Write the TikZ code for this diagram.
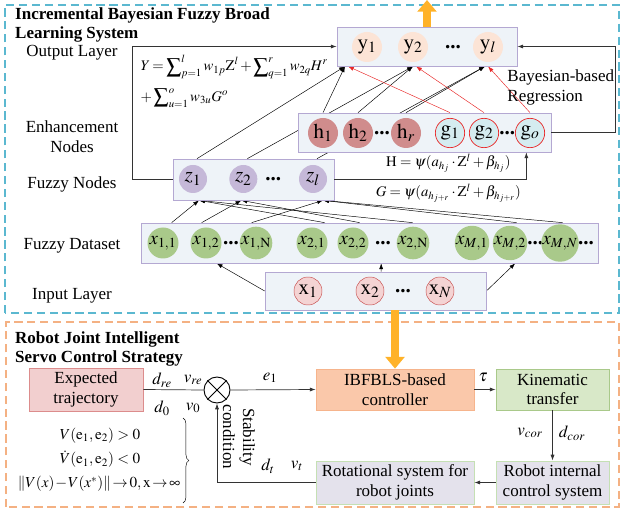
\documentclass[tikz,border=0pt]{standalone}
\usepackage{mathptmx}
\usepackage{fontspec}
\setmainfont{Liberation Serif}
\usepackage{tikz}
\usetikzlibrary{positioning, arrows.meta, calc, fit, backgrounds, decorations.pathreplacing}
\definecolor{layer_fill}{RGB}{238,243,248}
\definecolor{layer_line}{RGB}{180,168,210}
\definecolor{y_fill}{RGB}{252,228,214}
\definecolor{h_fill}{RGB}{208,140,140}
\definecolor{g_fill}{RGB}{213,236,240}
\definecolor{z_fill}{RGB}{197,184,216}
\definecolor{x_fill}{RGB}{169,201,138}
\definecolor{in_fill}{RGB}{244,211,211}
\definecolor{in_line}{RGB}{200,80,80}
\definecolor{ring_red}{RGB}{232,40,40}
\definecolor{frame_blue}{RGB}{91,184,208}
\definecolor{frame_orange}{RGB}{244,177,131}
\definecolor{big_orange}{RGB}{255,178,40}
\definecolor{traj_fill}{RGB}{242,207,207}
\definecolor{traj_line}{RGB}{220,140,140}
\definecolor{ctrl_fill}{RGB}{250,200,170}
\definecolor{ctrl_line}{RGB}{246,180,140}
\definecolor{kin_fill}{RGB}{216,232,200}
\definecolor{kin_line}{RGB}{169,201,138}
\definecolor{sys_fill}{RGB}{228,226,236}
\definecolor{sys_line}{RGB}{197,224,180}

\begin{document}
\begin{tikzpicture}[>={Latex[length=5pt,width=3.5pt]}, font=\fontsize{14.5}{17}\selectfont,
      layer/.style ={draw=layer_line, fill=layer_fill, semithick},
      unit/.style  ={circle, inner sep=0pt, font=\fontsize{18}{20}\selectfont},
      yunit/.style ={unit, fill=y_fill, minimum size=0.9cm},
      hunit/.style ={unit, fill=h_fill, minimum size=0.9cm},
      gunit/.style ={unit, fill=g_fill, draw=ring_red, semithick, minimum size=0.88cm},
      zunit/.style ={unit, fill=z_fill, minimum size=0.84cm},
      xunit/.style ={unit, fill=x_fill, minimum size=0.93cm, font=\fontsize{16}{18}\selectfont},
      inunit/.style={unit, fill=in_fill, draw=in_line, minimum size=0.84cm},
      rowdots/.style={inner sep=0pt, font=\fontsize{18}{18}\selectfont\bfseries},
      lbl/.style   ={align=center},
      eqn/.style   ={inner sep=1pt, font=\fontsize{13}{15}\selectfont},
      smalleqn/.style={inner sep=1pt, font=\fontsize{12.5}{14}\selectfont},
      frame/.style ={dashed, dash pattern=on 7pt off 4pt, line width=1.1pt},
      blk/.style   ={align=center, minimum height=1.23cm, semithick},
      conn/.style  ={->, thin},
      redconn/.style={->, thin, ring_red},
      flow/.style  ={->, semithick, black!80},
      bigarrow/.style={-{Triangle[width=16pt,length=10pt]}, line width=6pt, big_orange}]
    \useasboundingbox (0,0) rectangle (18.66,15.3);
    % --- the two dashed frames ---
    \draw[frame, frame_blue]   (0.15,5.91) rectangle (18.57,15.15);
    \draw[frame, frame_orange] (0.18,0.09) rectangle (18.57,5.64);
    \node[anchor=north west, inner sep=0pt, align=left, font=\fontsize{14.5}{17}\selectfont\bfseries] (ttl1) at (0.45,15.09)
      {Incremental Bayesian Fuzzy Broad\\Learning System};
    \node[anchor=north west, inner sep=0pt, align=left, font=\fontsize{14.5}{17}\selectfont\bfseries] (ttl2) at (0.45,5.37)
      {Robot Joint Intelligent\\Servo Control Strategy};
    % --- TOP: layer names on the left ---
    \node[lbl] (l_out) at (2.16,13.71) {Output Layer};
    \node[lbl] (l_enh) at (2.16,11.19) {Enhancement\\Nodes};
    \node[lbl] (l_fz)  at (2.16,9.78)  {Fuzzy Nodes};
    \node[lbl] (l_ds)  at (2.16,7.92)  {Fuzzy Dataset};
    \node[lbl] (l_in)  at (2.16,6.42)  {Input Layer};
    % --- TOP: output layer ---
    \node[layer, minimum width=5.4cm, minimum height=1.17cm] (out) at (12.81,13.905) {};
    \node[yunit] (y1) at (11.01,13.89) {$\mathrm{y}_1$};
    \node[yunit] (y2) at (12.39,13.89) {$\mathrm{y}_2$};
    \node[rowdots] (ydots) at (13.59,13.89) {...};
    \node[yunit] (yl) at (14.64,13.89) {$\mathrm{y}_l$};
    \node[eqn, anchor=west, font=\fontsize{12.5}{15}\selectfont] (fY1) at (4.18,13.29)
      {$\medmuskip=2mu\thickmuskip=3mu Y=\displaystyle\sum\nolimits_{p=1}^{l} w_{1p}\mathrm{Z}^{l}+\sum\nolimits_{q=1}^{r} w_{2q}H^{r}$};
    \node[eqn, anchor=west, font=\fontsize{12.5}{15}\selectfont] (fY2) at (4.18,12.36)
      {$\medmuskip=2mu +\displaystyle\sum\nolimits_{u=1}^{o} w_{3u}G^{o}$};
    \node[anchor=west, align=left] (bayes) at (15.1,12.69) {Bayesian-based\\Regression};
    % --- TOP: enhancement nodes ---
    \node[layer, minimum width=7.59cm, minimum height=1.17cm] (enh) at (12.735,11.325) {};
    \node[hunit] (h1) at (9.69,11.31)  {$\mathrm{h}_1$};
    \node[hunit] (h2) at (10.74,11.31) {$\mathrm{h}_2$};
    \node[rowdots] (hdots) at (11.46,11.31) {...};
    \node[hunit] (hr) at (12.18,11.31) {$\mathrm{h}_r$};
    \node[gunit] (g1) at (13.5,11.31)  {$\mathrm{g}_1$};
    \node[gunit] (g2) at (14.52,11.31) {$\mathrm{g}_2$};
    \node[rowdots] (gdots) at (15.22,11.31) {...};
    \node[gunit] (go) at (15.9,11.31)  {$\mathrm{g}_o$};
    % --- TOP: fuzzy nodes ---
    \node[layer, minimum width=4.83cm, minimum height=1.23cm] (fz) at (7.605,9.915) {};
    \node[zunit] (z1) at (5.79,9.93) {$z_1$};
    \node[zunit] (z2) at (7.3,9.93)  {$z_2$};
    \node[rowdots] (zdots) at (8.2,9.93) {...};
    \node[zunit] (zl) at (9.39,9.93) {$z_l$};
    \node[smalleqn] (fH) at (13.45,10.4) {$\mathrm{H}=\psi(a_{h_j}\cdot\mathrm{Z}^{l}+\beta_{h_j})$};
    \node[smalleqn] (fG) at (13.45,9.5)  {$G=\psi(a_{h_{j+r}}\cdot\mathrm{Z}^{l}+\beta_{h_{j+r}})$};
    % --- TOP: fuzzy dataset ---
    \node[layer, minimum width=13.71cm, minimum height=1.2cm] (ds) at (11.085,8.01) {};
    \node[xunit] (x11) at (4.89,8.01)  {$x_{1,1}$};
    \node[xunit] (x12) at (6.18,8.01)  {$x_{1,2}$};
    \node[rowdots] (x1dots) at (6.93,8.01) {...};
    \node[xunit] (x1N) at (7.68,8.01)  {$x_{1,\mathrm{N}}$};
    \node[xunit] (x21) at (9.36,8.01)  {$x_{2,1}$};
    \node[xunit] (x22) at (10.59,8.01) {$x_{2,2}$};
    \node[rowdots] (x2dots) at (11.49,8.01) {...};
    \node[xunit] (x2N) at (12.39,8.01) {$x_{2,\mathrm{N}}$};
    \node[xunit] (xM1) at (14.16,8.01) {$x_{M,1}$};
    \node[xunit] (xM2) at (15.3,8.01)  {$x_{M,2}$};
    \node[rowdots] (xMdots) at (16.06,8.01) {...};
    \node[xunit] (xMN) at (16.8,8.01)  {$x_{M,N}$};
    \node[rowdots] (xend) at (17.58,8.01) {...};
    % --- TOP: input layer ---
    \node[layer, minimum width=6.63cm, minimum height=1.14cm] (inp) at (11.265,6.57) {};
    \node[inunit] (in1) at (9.24,6.57)  {$\mathrm{x}_1$};
    \node[inunit] (in2) at (11.1,6.57)  {$\mathrm{x}_2$};
    \node[rowdots] (indots) at (12.09,6.57) {...};
    \node[inunit] (inN) at (13.2,6.57)  {$\mathrm{x}_N$};
    % --- TOP: connectors, kept under the layer boxes ---
    \begin{scope}[on background layer]
      \draw[conn] (inp.west) -- ($(ds.south west)+(2.28,0)$);
      \draw[conn] ($(inp.north)+(0.17,0)$) -- ($(ds.south)+(0.35,0)$);
      \draw[conn] (inp.east) -- ($(ds.south)+(4.37,0)$);
      \foreach \dx/\zt/\ox in {0.93/z1/0.18, 5.52/z1/0.18, 8.16/z1/0.18, 1.83/z2/-0.06,
                               6.57/z2/-0.06, 3.33/zl/0.3, 11.28/zl/0.3, 12.66/zl/0.3}
        \draw[conn] ($(ds.north west)+(\dx,0)$) -- ($(\zt |- fz.south)+(\ox,0)$);
      \foreach \src/\dst/\ox in {z1/y1/-0.66, z2/y2/0, zl/yl/-0.09}
        \draw[conn] ($(\src |- fz.north)+(0.12,0)$) -- ($(\dst |- out.south)+(\ox,0)$);
      \foreach \src/\dst/\ox in {h1/y1/-0.66, h2/y2/0, hr/yl/-0.09}
        \draw[conn] (\src |- enh.north) -- ($(\dst |- out.south)+(\ox,0)$);
      \foreach \src/\dst/\ox in {g1/y1/-0.57, g2/y2/0.09, go/yl/0}
        \draw[redconn] (\src |- enh.north) -- ($(\dst |- out.south)+(\ox,0)$);
    \end{scope}
    \draw[->, semithick, black!80] (fz.west) -- ++(-1.2,0) |- (out.west);
    \draw[->, semithick, black!80] (fz.east) -| ($(enh.south east)+(-0.75,0)$);
    \draw[->, semithick, black!80] (enh.east) -- ++(1.92,0) |- (out.east);
    \draw[bigarrow] (out.north) -- ++(0,0.8);
    % --- BOTTOM: servo control loop ---
    \node[blk, draw=traj_line, fill=traj_fill, minimum width=3.42cm] (traj) at (2.58,3.615) {Expected\\trajectory};
    \node[circle, draw, thick, minimum size=0.78cm, inner sep=0pt] (sum) at (6.51,3.6) {};
    \draw[thick] (sum.north west) -- (sum.south east);
    \draw[thick] (sum.north east) -- (sum.south west);
    \node[blk, draw=ctrl_line, fill=ctrl_fill, minimum width=4.74cm] (ctrl) at (11.85,3.615) {IBFBLS-based\\controller};
    \node[blk, draw=kin_line, fill=kin_fill, minimum width=3.39cm] (kin) at (16.575,3.615) {Kinematic\\transfer};
    \node[blk, draw=sys_line, fill=sys_fill, minimum width=3.39cm] (rint) at (16.575,0.825) {Robot internal\\control system};
    \node[blk, draw=sys_line, fill=sys_fill, minimum width=4.74cm] (rot) at (11.85,0.825) {Rotational system for\\robot joints};
    \draw[semithick, black!80] (traj.east) -- (sum.west);
    \draw[flow] (sum.east) -- (ctrl.west);
    \draw[flow] (ctrl.east) -- (kin.west);
    \draw[flow] (kin.south) -- (rint.north);
    \draw[flow] (rint.west) -- (rot.east);
    \draw[flow] (rot.west) -| (sum.south);
    \draw[bigarrow] (ctrl.north |- inp.south) -- (ctrl.north);
    % --- BOTTOM: signal names ---
    \node (dre)  at (4.86,3.9)  {$d_{re}$};
    \node (vre)  at (5.79,3.9)  {$v_{re}$};
    \node (d0)   at (4.86,3.06) {$d_0$};
    \node (v0)   at (5.79,3.06) {$v_0$};
    \node (e1)   at (8.1,3.96)  {$e_1$};
    \node (tau)  at (14.49,3.99) {$\tau$};
    \node (vcor) at (15.9,2.31) {$v_{cor}$};
    \node (dcor) at (17.16,2.31) {$d_{cor}$};
    \node (dt)   at (8.04,1.32) {$d_t$};
    \node (vt)   at (8.91,1.32) {$v_t$};
    \node[lbl, rotate=-90] (stab) at (7.17,2.19) {Stability\\condition};
    % --- BOTTOM: Lyapunov conditions ---
    \node[eqn] (ly1) at (3.0,2.24)  {$V(\mathrm{e}_1,\mathrm{e}_2)>0$};
    \node[eqn] (ly2) at (3.0,1.52)  {$\dot{V}(\mathrm{e}_1,\mathrm{e}_2)<0$};
    \node[eqn] (ly3) at (2.97,0.78)
      {$\medmuskip=1mu\thickmuskip=2mu\|V(x)-V(x^{*})\|\rightarrow 0,\mathrm{x}\rightarrow\infty$};
    \coordinate (brtop) at (5.49,2.76);
    \coordinate (brbot) at (5.49,0.21);
    \draw[decorate, decoration={brace, amplitude=5pt}] (brtop) -- (brbot);
  \end{tikzpicture}
\end{document}
